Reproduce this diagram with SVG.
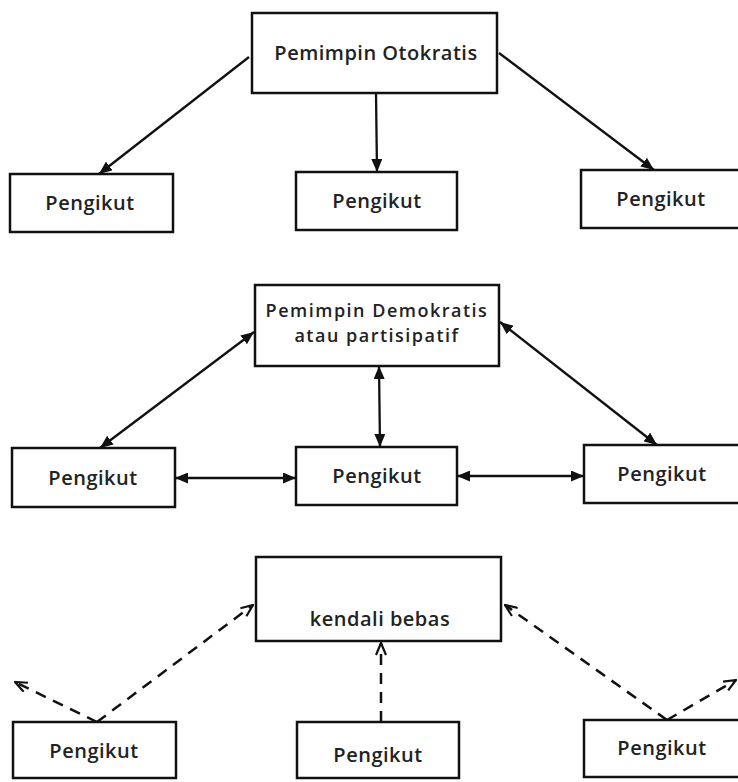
<svg xmlns="http://www.w3.org/2000/svg" width="738" height="782" viewBox="0 0 738 782">
<defs>
<style>
.box{fill:#fff;stroke:#111;stroke-width:2.5}
.t{font-family:"Open Sans","Noto Sans",sans-serif;font-weight:600;font-size:20px;fill:#222;text-anchor:middle;letter-spacing:0.5px}
.t2{font-size:18px;letter-spacing:1.5px}
.s{stroke:#111;stroke-width:2.3;fill:none}
.d{stroke:#111;stroke-width:2.5;fill:none;stroke-dasharray:11 8}
</style>
<marker id="fa" viewBox="0 0 13 11" refX="13" refY="5.5" markerWidth="13" markerHeight="11" markerUnits="userSpaceOnUse" orient="auto-start-reverse">
<path d="M0,0 L13,5.5 L0,11 z" fill="#111"/>
</marker>
<marker id="oa" viewBox="0 0 14 12" refX="13" refY="6" markerWidth="14" markerHeight="12" markerUnits="userSpaceOnUse" orient="auto-start-reverse">
<path d="M1,1 L13,6 L1,11" fill="none" stroke="#111" stroke-width="2.2"/>
</marker>
</defs>
<rect width="738" height="782" fill="#fff"/>
<g id="connectors">
<line class="s" x1="249" y1="57" x2="99" y2="174" marker-end="url(#fa)"/>
<line class="s" x1="376" y1="93" x2="377" y2="172" marker-end="url(#fa)"/>
<line class="s" x1="499" y1="53" x2="654" y2="170" marker-end="url(#fa)"/>
<line class="s" x1="100" y1="448" x2="254" y2="332" marker-start="url(#fa)" marker-end="url(#fa)"/>
<line class="s" x1="379" y1="366" x2="380" y2="447" marker-start="url(#fa)" marker-end="url(#fa)"/>
<line class="s" x1="500" y1="322" x2="657" y2="445" marker-start="url(#fa)" marker-end="url(#fa)"/>
<line class="s" x1="175" y1="478" x2="296" y2="478" marker-start="url(#fa)" marker-end="url(#fa)"/>
<line class="s" x1="457" y1="476" x2="584" y2="476" marker-start="url(#fa)" marker-end="url(#fa)"/>
<line class="d" x1="97" y1="722" x2="253" y2="605" marker-end="url(#oa)"/>
<line class="d" x1="97" y1="722" x2="15" y2="682" marker-end="url(#oa)"/>
<line class="d" x1="381" y1="722" x2="381" y2="643" marker-end="url(#oa)"/>
<line class="d" x1="667" y1="720" x2="505" y2="605" marker-end="url(#oa)"/>
<line class="d" x1="667" y1="720" x2="736" y2="680" marker-end="url(#oa)"/>
</g>
<g id="otokratis"><rect class="box" x="252" y="13" width="245" height="80"/><text class="t" x="376" y="60">Pemimpin Otokratis</text></g>
<g id="p1a"><rect class="box" x="10" y="174" width="163" height="58"/><text class="t" x="90" y="210">Pengikut</text></g>
<g id="p1b"><rect class="box" x="296" y="172" width="161" height="58"/><text class="t" x="377" y="208">Pengikut</text></g>
<g id="p1c"><rect class="box" x="581" y="170" width="160" height="58"/><text class="t" x="661" y="206">Pengikut</text></g>
<g id="demokratis"><rect class="box" x="255" y="285" width="244" height="81"/><text class="t t2" x="377" y="317">Pemimpin Demokratis</text><text class="t t2" x="377" y="342">atau partisipatif</text></g>
<g id="p2a"><rect class="box" x="12" y="448" width="163" height="59"/><text class="t" x="93" y="485">Pengikut</text></g>
<g id="p2b"><rect class="box" x="296" y="447" width="161" height="58"/><text class="t" x="377" y="483">Pengikut</text></g>
<g id="p2c"><rect class="box" x="584" y="445" width="157" height="58"/><text class="t" x="662" y="481">Pengikut</text></g>
<g id="bebas"><rect class="box" x="256" y="557" width="245" height="84"/><text class="t" x="380" y="626">kendali bebas</text></g>
<g id="p3a"><rect class="box" x="13" y="722" width="163" height="56"/><text class="t" x="94" y="758">Pengikut</text></g>
<g id="p3b"><rect class="box" x="297" y="722" width="162" height="56"/><text class="t" x="378" y="762">Pengikut</text></g>
<g id="p3c"><rect class="box" x="584" y="720" width="157" height="57"/><text class="t" x="662" y="755">Pengikut</text></g>
</svg>
